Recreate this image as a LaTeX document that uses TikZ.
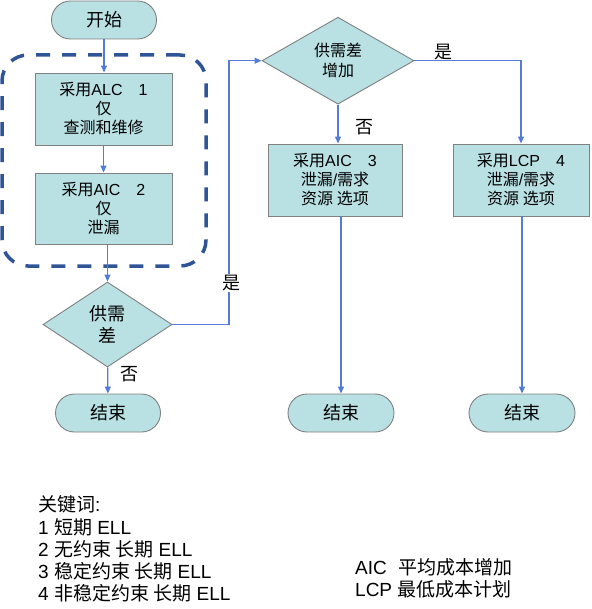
\documentclass[tikz,border=0pt]{standalone}
\usepackage{fontspec}
\setmainfont{Liberation Sans}
\newfontfamily\cjk{Noto Sans CJK SC}
\usetikzlibrary{shapes.geometric,arrows.meta}
\newcommand\zh[1]{{\cjk #1}}
\definecolor{boxfill}{RGB}{185,225,228}
\definecolor{bordergray}{RGB}{128,128,128}
\definecolor{linkblue}{RGB}{84,124,214}
\definecolor{grpblue}{RGB}{47,85,151}
\begin{document}
\begin{tikzpicture}[x=1pt,y=-1pt,
  box/.style={draw=bordergray, fill=boxfill, line width=0.9pt, minimum width=137pt,
    minimum height=72pt, inner sep=0pt, align=center, font=\fontsize{16}{19}\selectfont},
  term/.style={box, rounded corners=19pt, minimum width=105pt, minimum height=38pt,
    font=\fontsize{18}{22}\selectfont},
  decide/.style={diamond, draw=bordergray, fill=boxfill, line width=0.9pt, inner sep=0pt,
    align=center},
  conn/.style={draw=linkblue, line width=1.3pt, -{Triangle[length=7pt,width=6pt]}},
  lbl/.style={font=\fontsize{18}{21}\selectfont, inner sep=1pt},
  grp/.style={draw=grpblue, line width=3.5pt, dash pattern=on 14pt off 12pt,
    rounded corners=26pt, minimum width=204pt, minimum height=211pt, inner sep=0pt},
  legend/.style={align=left, inner sep=0pt, anchor=west, font=\fontsize{19}{22.2}\selectfont}
]
\useasboundingbox (0,0) rectangle (591,609);

% group
\node[grp] (grp) at (104,160.5) {};

% left column
\node[term] (start) at (104,20) {\zh{开始}};
\node[box] (box1) at (103.5,109) {\zh{采用}ALC\hspace{16pt}1\\\zh{仅}\\\zh{查测和维修}};
\node[box, minimum height=71pt] (box2) at (103.5,208.5) {\zh{采用}AIC\hspace{16pt}2\\\zh{仅}\\\zh{泄漏}};
\node[decide, minimum width=129pt, minimum height=85pt, font=\fontsize{18}{22}\selectfont] (d1) at (107.5,324.5) {\zh{供需}\\\zh{差}};
\node[term] (end1) at (108,413) {\zh{结束}};

% right part
\node[decide, minimum width=152pt, minimum height=87pt, font=\fontsize{16}{20}\selectfont] (d2) at (338,60.7) {\zh{供需差}\\\zh{增加}};
\node[box, minimum width=134pt] (box3) at (335,180) {\zh{采用}AIC\hspace{16pt}3\\\zh{泄漏}/\zh{需求}\\\zh{资源 选项}};
\node[box, minimum width=136pt] (box4) at (521,180) {\zh{采用}LCP\hspace{16pt}4\\\zh{泄漏}/\zh{需求}\\\zh{资源 选项}};
\node[term, minimum width=106pt] (end2) at (341,413) {\zh{结束}};
\node[term, minimum width=106pt] (end3) at (522,413) {\zh{结束}};

\coordinate (jog) at (229,0);

% connectors
\draw[conn] (start.south) -- (start.south |- box1.north);
\draw[conn] (box1) -- (box2);
\draw[conn] (d1.north |- box2.south) -- (d1.north);
\draw[conn] (d1) -- (end1);
\draw[conn] (d1.east) -- (d1.east -| jog) -- (jog |- d2.west) -- (d2.west);
\draw[conn] (d2.east) -| (box4.north);
\draw[conn] (d2.south) -- (d2.south |- box3.north);
\draw[conn] (box3.south -| end2.north) -- (end2.north);
\draw[conn] (box4.south -| end3.north) -- (end3.north);

% labels
\node[lbl, fill=white] (yes1) at (231,283) {\zh{是}};
\node[lbl] (no1) at (129,374) {\zh{否}};
\node[lbl] (yes2) at (443,52) {\zh{是}};
\node[lbl] (no2) at (364,127) {\zh{否}};

% legends
\node[legend] (key) at (38,549) {\zh{关键词}:\\1 \zh{短期} ELL\\2 \zh{无约束 长期} ELL\\3 \zh{稳定约束 长期} ELL\\4 \zh{非稳定约束 长期} ELL};
\node[legend] (abbr) at (355,578.5) {AIC\hspace{12pt}\zh{平均成本增加}\\LCP \zh{最低成本计划}};
\end{tikzpicture}
\end{document}
